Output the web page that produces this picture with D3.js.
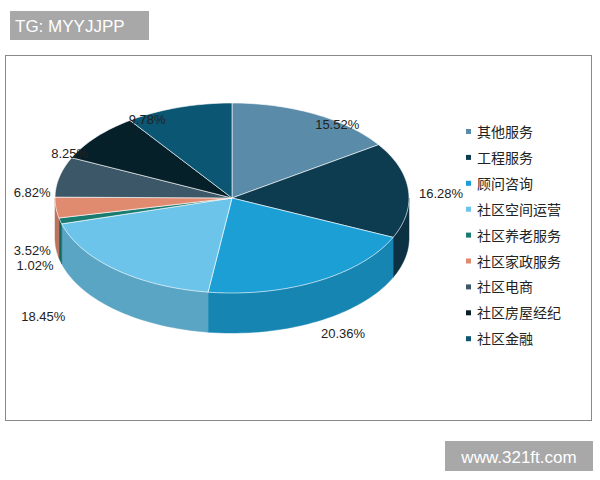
<!DOCTYPE html>
<html><head><meta charset="utf-8">
<script src="https://cdn.jsdelivr.net/npm/d3@7"></script>
<style>body{margin:0;background:#fff}</style>
</head><body><div id="chart"></div>
<script>
// Data
var categories = ["其他服务", "工程服务", "顾问咨询", "社区空间运营", "社区养老服务", "社区家政服务", "社区电商", "社区房屋经纪", "社区金融"];
var values = [15.52, 16.28, 20.36, 18.45, 1.02, 3.52, 6.82, 8.25, 9.78];
var colors = ["#5a8ba9", "#0d3b50", "#1c9fd5", "#6cc4ea", "#1a7b70", "#e08a70", "#3c5767", "#062029", "#0b5673"];

var svg = d3.select("#chart").append("svg").attr("width", 600).attr("height", 480);

// header tag
svg.append("rect").attr("x", 10).attr("y", 11).attr("width", 139).attr("height", 29).attr("fill", "#a8a8a8");
svg.append("text").attr("x", 15).attr("y", 32).attr("fill", "#fff")
    .style("font-family", "Liberation Sans, Arial").style("font-size", "17px").text("TG: MYYJJPP");

// chart frame
svg.append("rect").attr("x", 5.5).attr("y", 55.5).attr("width", 586).attr("height", 365)
    .attr("fill", "#fff").attr("stroke", "#888").attr("stroke-width", 1);

// watermark
svg.append("rect").attr("x", 445).attr("y", 441).attr("width", 148).attr("height", 30).attr("fill", "#a8a8a8");
svg.append("text").attr("x", 519).attr("y", 463).attr("text-anchor", "middle").attr("fill", "#fff")
    .style("font-family", "Liberation Sans, Arial").style("font-size", "17px").text("www.321ft.com");

var cx = 232, cy = 198, rx = 177, ry = 95, depth = 40;
var pie = d3.pie().sort(null).value(function (d) { return d; });
var arcs = pie(values);

function pt(t, dy) { return [cx + rx * Math.sin(t), cy - ry * Math.cos(t) + (dy || 0)]; }

var g = svg.append("g");

// side walls (visible half: t between PI/2 and 3PI/2)
arcs.forEach(function (a, i) {
    var s = Math.max(a.startAngle, Math.PI / 2), e = Math.min(a.endAngle, 3 * Math.PI / 2);
    if (e <= s) return;
    var n = 40, top = [], bot = [];
    for (var k = 0; k <= n; k++) {
        var t = s + (e - s) * k / n;
        top.push(pt(t)); bot.push(pt(t, depth));
    }
    var poly = top.concat(bot.reverse());
    g.append("path").attr("d", "M" + poly.join("L") + "Z")
        .attr("fill", d3.color(colors[i]).darker(0.5)).attr("stroke", d3.color(colors[i]).darker(0.5)).attr("stroke-width", 0.5);
});

// top faces
arcs.forEach(function (a, i) {
    var n = Math.max(4, Math.ceil((a.endAngle - a.startAngle) * 40)), p = [[cx, cy]];
    for (var k = 0; k <= n; k++) p.push(pt(a.startAngle + (a.endAngle - a.startAngle) * k / n));
    g.append("path").attr("d", "M" + p.join("L") + "Z")
        .attr("fill", colors[i]).attr("stroke", "#fff").attr("stroke-width", 0.6);
});

// labels
var labelNudge = [[14, 31], [15, 5], [17, -9], [-61, -12], [-8, -2], [-6, 0], [-10, 20], [-13, 31], [-26, 34]];
arcs.forEach(function (a, i) {
    var m = (a.startAngle + a.endAngle) / 2;
    var x = cx + rx * 1.1 * Math.sin(m), y = cy - ry * 1.25 * Math.cos(m);
    if (Math.cos(m) < 0) y += depth;
    svg.append("text").attr("x", x + labelNudge[i][0]).attr("y", y + labelNudge[i][1] + 5)
        .attr("text-anchor", "middle").attr("fill", "#222")
        .style("font-family", "Liberation Sans, Arial").style("font-size", "13px")
        .text(values[i].toFixed(2) + "%");
});

// legend
var legend = svg.append("g").attr("transform", "translate(466,132)");
categories.forEach(function (c, i) {
    var row = legend.append("g").attr("transform", "translate(0," + i * 25.9 + ")");
    row.append("rect").attr("x", 0).attr("y", -3).attr("width", 5).attr("height", 5).attr("fill", colors[i]);
    row.append("text").attr("x", 11).attr("y", 5).attr("fill", "#222")
        .style("font-family", "Noto Sans CJK SC").style("font-size", "14px").text(c);
});
</script>
</body></html>
